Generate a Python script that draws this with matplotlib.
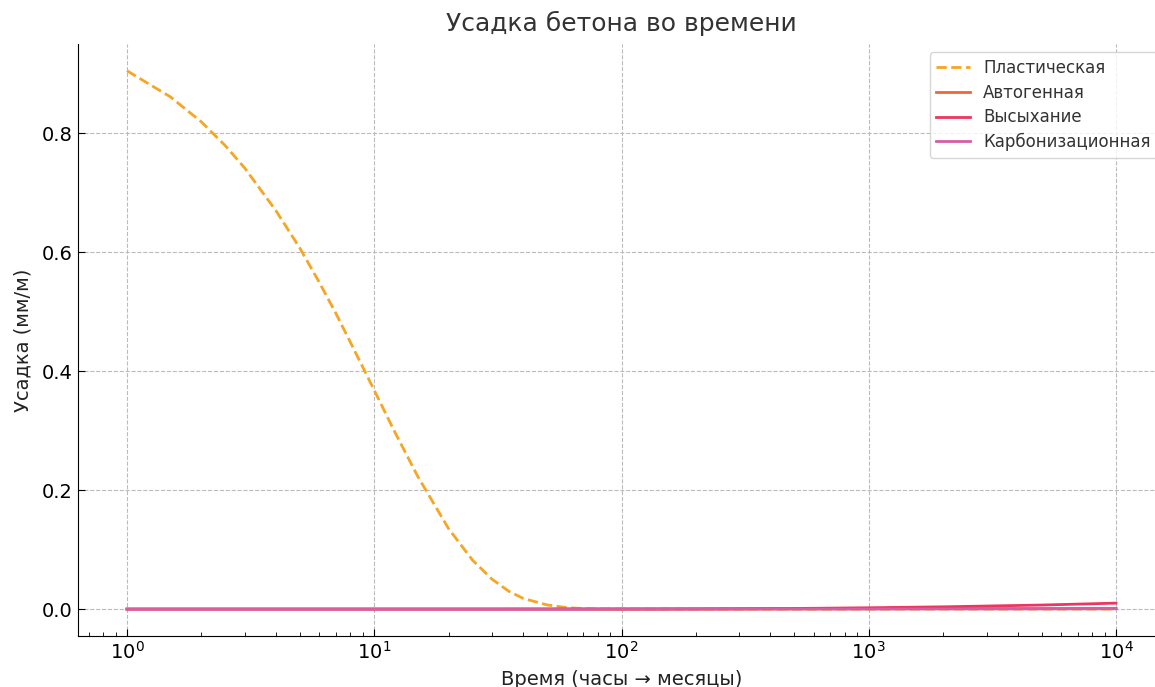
import matplotlib
matplotlib.use("Agg")
import matplotlib.pyplot as plt

# time in hours (log axis)
time_h = [1, 1.5, 2, 2.5, 3, 4, 5, 6, 7, 8, 10, 12, 15, 20, 25, 30, 35, 40, 50,
          60, 70, 80, 100, 200, 500, 1000, 2000, 5000, 10000]
plastic = [0.905, 0.861, 0.819, 0.779, 0.741, 0.670, 0.607, 0.549, 0.497, 0.449,
           0.368, 0.301, 0.223, 0.135, 0.082, 0.050, 0.030, 0.018, 0.007,
           0.0025, 0.0009, 0.0003, 0.0, 0.0, 0.0, 0.0, 0.0, 0.0, 0.0]
autogenous = [0.0] * 22 + [0.0001, 0.0002, 0.0004, 0.0006, 0.0008, 0.0010, 0.0012]
drying = [0.0] * 16 + [0.00005, 0.00006, 0.00007, 0.00008, 0.00009, 0.0001,
                       0.00012, 0.0004, 0.0010, 0.0022, 0.0038, 0.0068, 0.0100]
carbonation = [0.0] * 22 + [0.0, 0.0, 0.0001, 0.0001, 0.0002, 0.0003, 0.0005]

labels = ["Пластическая", "Автогенная", "Высыхание", "Карбонизационная"]
colors = ["#f5a623", "#f0663a", "#ec3560", "#d65fa3"]

fig = plt.figure(figsize=(11.55, 6.87), dpi=100)
ax = fig.add_axes([77.5 / 1155, 51 / 687, 1088 / 1155, 592 / 687])

ax.plot(time_h, plastic, "--", color=colors[0], lw=2, label=labels[0])
ax.plot(time_h, autogenous, color=colors[1], lw=2, label=labels[1])
ax.plot(time_h, drying, color=colors[2], lw=2, label=labels[2])
ax.plot(time_h, carbonation, color=colors[3], lw=2, label=labels[3])

ax.set_xscale("log")
ax.set_xlim(10 ** -0.2, 10 ** 4.2)
ax.set_ylim(-0.04525, 0.95)
ax.set_yticks([0.0, 0.2, 0.4, 0.6, 0.8])

ax.spines["top"].set_visible(False)
ax.spines["right"].set_visible(False)
ax.tick_params(which="both", direction="in", labelsize=14)
ax.tick_params(which="major", length=5)
ax.tick_params(which="minor", length=3)
ax.grid(True, which="major", linestyle="--", color="#bbbbbb", lw=0.8)

ax.set_title("Усадка бетона во времени", fontsize=18, color="#333333", pad=9)
ax.set_xlabel("Время (часы → месяцы)", fontsize=14, color="#222222", labelpad=5)
ax.set_ylabel("Усадка (мм/м)", fontsize=14, color="#222222", labelpad=7)

leg = ax.legend(loc="upper right", fontsize=12, frameon=True, fancybox=True,
                labelspacing=0.4)
for t in leg.get_texts():
    t.set_color("#333333")

fig.savefig("out.png", dpi=100)
